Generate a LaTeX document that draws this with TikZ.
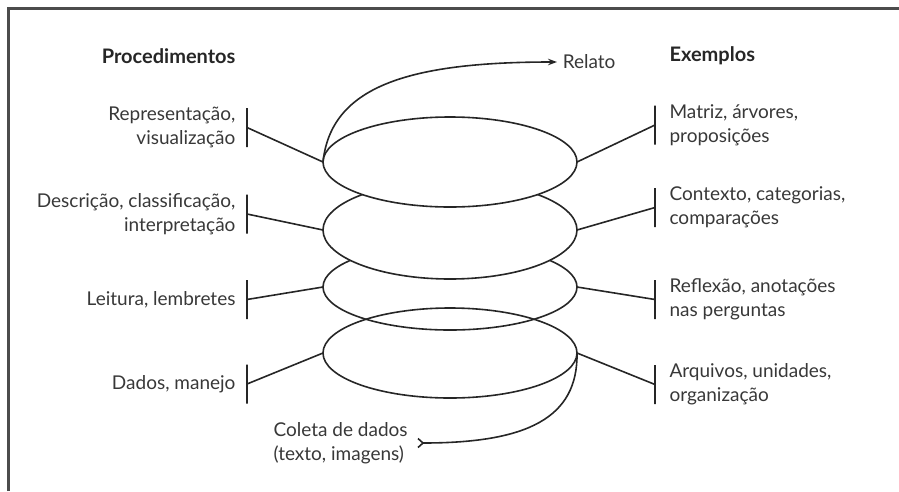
\documentclass[tikz,border=0pt]{standalone}
\usepackage{fontspec}
\setmainfont{Lato}
\usetikzlibrary{positioning,shapes.geometric,arrows.meta}

\begin{document}
\begin{tikzpicture}[x=1pt,y=1pt,yscale=-1,
  every path/.style={line width=1.6pt},
  color=black!85,
  lbl/.style={inner sep=0.75pt, text=black!78, font=\fontsize{19}{24}\selectfont},
  head/.style={lbl, text=black!85, font=\fontsize{20}{24}\selectfont\bfseries},
  bar/.style={draw, minimum width=0pt, minimum height=39pt, inner sep=0pt, outer sep=0pt},
  disc/.style={draw, ellipse, minimum width=254pt, inner sep=0pt, outer sep=0pt, fill=white}]
\useasboundingbox (0,0) rectangle (899,491);

%Frame
\draw [line width=3pt, black!70] (8,491) -- (8,8) -- (899,8) ;

%Shape: Ellipse stack (lower ones first)
\node [disc, minimum height=86pt] (e3) at (450,287) {};
\node [disc, minimum height=98pt] (e2) at (450,230) {};
\node [disc, minimum height=90pt] (e1) at (450,162) {};
\node [disc, minimum height=90pt, fill=none] (e4) at (450,353) {};

%Bars left
\node [bar] (lb1) at (247,127.5) {};
\node [bar] (lb2) at (247,214) {};
\node [bar] (lb3) at (247,299.5) {};
\node [bar] (lb4) at (247,384) {};
%Bars right
\node [bar] (rb1) at (655,125) {};
\node [bar] (rb2) at (655,207.5) {};
\node [bar] (rb3) at (655,299.5) {};
\node [bar] (rb4) at (655,384.5) {};

%Straight Lines
\draw (lb1) -- (e1.west) ;
\draw (lb2) -- (e2.west) ;
\draw (lb3) -- (e3.west) ;
\draw (lb4) -- (e4.west) ;
\draw (rb1) -- (e1.east) ;
\draw (rb2) -- (e2.east) ;
\draw (rb3) -- (e3.east) ;
\draw (rb4) -- (e4.east) ;

% Text Node
\node [head, anchor=east] (proc) at (237,56) {Procedimentos};
% Text Node
\node [head, anchor=west] (exem) at (668,56) {Exemplos};
% Text Node
\node [lbl, align=right, left=10pt of lb1] (lt1) {Representação,\\visualização};
\node [lbl, align=right, left=10pt of lb2] (lt2) {Descrição, classificação,\\interpretação};
\node [lbl, align=right, left=10pt of lb3] (lt3) {Leitura, lembretes};
\node [lbl, align=right, left=10pt of lb4] (lt4) {Dados, manejo};
% Text Node
\node [lbl, align=left, right=13pt of rb1] (rt1) {Matriz, árvores,\\proposições};
\node [lbl, align=left, right=13pt of rb2] (rt2) {Contexto, categorias,\\comparações};
\node [lbl, align=left, right=13pt of rb3] (rt3) {Reflexão, anotações\\nas perguntas};
\node [lbl, align=left, right=13pt of rb4] (rt4) {Arquivos, unidades,\\organização};
% Text Node
\node [lbl, anchor=west, inner xsep=5pt] (relato) at (557,62) {Relato};
\node [lbl, align=left, anchor=west] (coleta) at (272,443) {Coleta de dados\\(texto, imagens)};

%Curve Lines
\draw [-{Stealth[length=9pt,width=6.5pt]}] (e1.west) .. controls +(8,-75) and +(-150,0) .. (relato.west) ;
\draw [{Straight Barb[reversed,length=5pt,width=9pt]}-] ([xshift=8pt]coleta.east) .. controls +(110,0) and +(1,65) .. (e4.east) ;
\end{tikzpicture}
\end{document}
